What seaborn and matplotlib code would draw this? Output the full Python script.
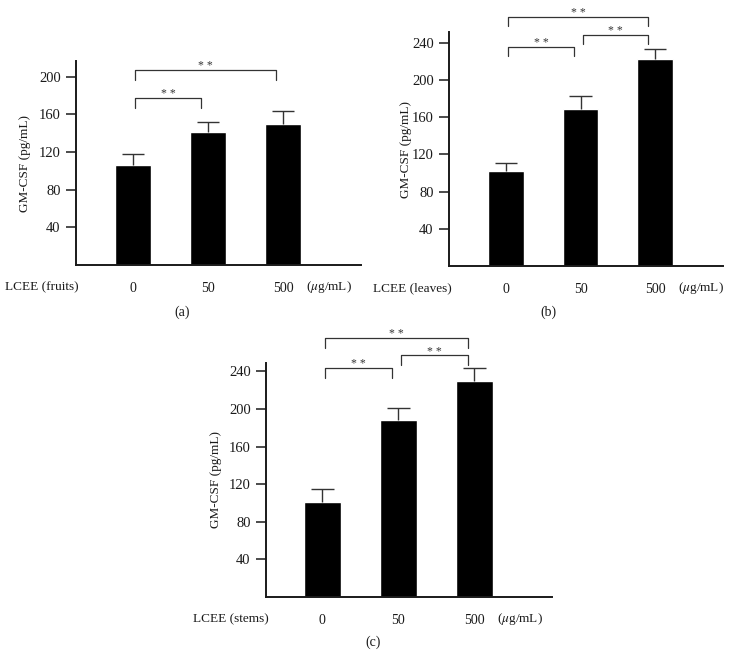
import matplotlib
matplotlib.use("Agg")
import matplotlib.pyplot as plt
import seaborn as sns
import pandas as pd

# doses (ug/mL) and GM-CSF readings (pg/mL) per extract
doses = ["0", "50", "500"]

fruits_mean = [106, 141, 150]
fruits_err = [12, 11, 14]

leaves_mean = [102, 169, 222]
leaves_err = [9, 14, 11]

stems_mean = [101, 188, 230]
stems_err = [14, 13, 14]

# significance brackets: (from, to, top of bracket, bottom of legs)
fruits_sig = [(0, 1, 177.5, 166.5), (0, 2, 207, 196.5)]
leaves_sig = [(0, 1, 235.5, 225.5), (1, 2, 248.5, 238.5), (0, 2, 267.5, 257.5)]
stems_sig = [(0, 1, 244, 233.5), (1, 2, 257, 247), (0, 2, 275.5, 265)]

sns.set_style("ticks")
plt.rcParams['font.family'] = ['Liberation Serif', 'DejaVu Serif']
plt.rcParams['mathtext.fontset'] = 'stix'

ink = "#1a1a1a"
W, H = 739, 666
fig = plt.figure(figsize=(W / 100, H / 100), dpi=100)


def px_axes(left, right, top, bottom):
    return fig.add_axes([left / W, 1 - bottom / H, (right - left) / W, (bottom - top) / H])


def panel(ax, means, errs, sig, part, ymax, xlim, ylab_x):
    df = pd.DataFrame({"dose": doses, "gmcsf": means})
    sns.barplot(data=df, x="dose", y="gmcsf", color="black", saturation=1,
                width=0.48, errorbar=None, ax=ax)
    # upper-only error bars
    xs = list(range(len(means)))
    tops = [m + e for m, e in zip(means, errs)]
    ax.vlines(xs, means, tops, color="#333333", lw=1.0)
    ax.hlines(tops, [x - 0.15 for x in xs], [x + 0.15 for x in xs],
              color="#333333", lw=1.0)
    ax.set_xlim(*xlim)
    ax.set_ylim(0, ymax)
    ax.set_yticks([40, 80, 120, 160, 200, 240] if ymax > 230 else [40, 80, 120, 160, 200])
    sns.despine(ax=ax)
    for s in ["left", "bottom"]:
        ax.spines[s].set_linewidth(1.4)
        ax.spines[s].set_color(ink)
    ax.tick_params(axis="y", length=7, width=1.1, pad=4, labelsize=10.5, colors=ink)
    ax.tick_params(axis="x", length=0, pad=12, labelsize=10, colors=ink)
    ax.set_xlabel("")
    ax.set_ylabel("GM-CSF (pg/mL)", fontsize=9.5, color=ink)
    ax.yaxis.set_label_coords(ylab_x, 0.5)

    ax.annotate("LCEE (" + part + ")", xy=(0, 0), xycoords="axes fraction",
                xytext=(2, -16), textcoords="offset points",
                ha="right", va="center", fontsize=9.5, color=ink)
    ax.annotate(r"($\mu$g/mL)", xy=(2.3, 0), xycoords=("data", "axes fraction"),
                xytext=(0, -16), textcoords="offset points",
                ha="left", va="center", fontsize=9.5, color=ink)

    for i, j, top, leg in sig:
        x0, x1 = i + 0.03, j - 0.09
        ax.plot([x0, x0, x1, x1], [leg, top, top, leg], color="#333333",
                lw=0.9, clip_on=False)
        ax.text((x0 + x1) / 2, top + 1, "* *", ha="center", va="baseline",
                fontsize=8.5, color="#333333", clip_on=False)


ax_a = px_axes(76, 361, 61, 265)
panel(ax_a, fruits_mean, fruits_err, fruits_sig, "fruits", 216.6, (-0.76, 3.04), -0.158)

ax_b = px_axes(449, 723, 32, 266)
panel(ax_b, leaves_mean, leaves_err, leaves_sig, "leaves", 251.4, (-0.765, 2.91), -0.136)

ax_c = px_axes(266, 552, 363, 597)
panel(ax_c, stems_mean, stems_err, stems_sig, "stems", 249, (-0.74, 3.02), -0.155)

for lab, xp, yp in [("(a)", 182, 312), ("(b)", 548, 312), ("(c)", 373, 642)]:
    fig.text(xp / W, 1 - yp / H, lab, ha="center", va="center", fontsize=10, color=ink)

fig.savefig("out.png", dpi=100)
